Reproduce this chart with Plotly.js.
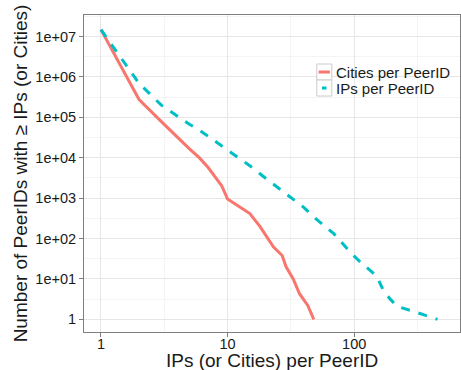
<!DOCTYPE html>
<html>
<head>
<meta charset="utf-8">
<script src="https://cdn.plot.ly/plotly-3.0.1.min.js"></script>
<style>html,body{margin:0;padding:0;background:#fff;}#chart{width:461px;height:370px;}</style>
</head>
<body>
<div id="chart"></div>
<script>
// Cities per PeerID (complementary cumulative counts)
const citiesX = [1, 2, 3, 4, 5, 6, 7, 8, 9, 10, 15, 18, 23, 27, 29, 33, 37, 43, 48];
const citiesY = [1.48e7, 2.75e5, 7.8e4, 3.2e4, 1.66e4, 9.9e3, 5.8e3, 3.3e3, 2.0e3, 950, 414, 200, 62, 38, 20, 10, 4.3, 2.2, 1];
// IPs per PeerID
const ipsX = [1, 2, 3, 4, 5, 6, 7, 8, 10, 15, 20, 30, 40, 48, 69, 93, 108, 151, 170, 192, 218, 277, 455];
const ipsY = [1.48e7, 6.9e5, 2.0e5, 1.05e5, 6.7e4, 4.8e4, 3.4e4, 2.55e4, 1.58e4, 6.3e3, 3.1e3, 1.2e3, 590, 341, 132, 46, 29, 11.6, 5.2, 3.2, 2.1, 1.67, 1];

const seriesNames = ["Cities per PeerID", "IPs per PeerID"];
const seriesColors = ["#F8766D", "#00BFC4"];
const xTickVals = [1, 10, 100];
const xTickText = ["1", "10", "100"];
const yTickVals = [1e7, 1e6, 1e5, 1e4, 1e3, 1e2, 1e1, 1];
const yTickText = ["1e+07", "1e+06", "1e+05", "1e+04", "1e+03", "1e+02", "1e+01", "1"];
const xMinorVals = [3.1623, 31.623, 316.23];
const yMinorVals = [3.1623e7, 3.1623e6, 3.1623e5, 3.1623e4, 3.1623e3, 316.23, 31.623, 3.1623];
const xTitle = "IPs (or Cities) per PeerID";
const yTitle = "Number of PeerIDs with ≥ IPs (or Cities)";

const font = "'Liberation Sans', Arial, Helvetica, sans-serif";

const traces = [
  {x: citiesX, y: citiesY, name: seriesNames[0], type: "scatter", mode: "lines",
   line: {color: seriesColors[0], width: 3}},
  {x: ipsX, y: ipsY, name: seriesNames[1], type: "scatter", mode: "lines",
   line: {color: seriesColors[1], width: 3, dash: "dash"}}
];

// legend drawn as key boxes + text (ggplot-style keys), in plot-area fractions
const legX0 = 0.619, legX1 = 0.659, legTop = 0.8454, legRow = 0.0505;
const shapes = [];
const annotations = [];
seriesNames.forEach((nm, i) => {
  const yTop = legTop - i * legRow, yBot = yTop - legRow, yMid = (yTop + yBot) / 2;
  shapes.push({type: "rect", xref: "paper", yref: "paper", x0: legX0, x1: legX1, y0: yBot, y1: yTop,
    line: {color: "#cccccc", width: 1}, fillcolor: "#ffffff", layer: "above"});
  const inset = i === 0 ? 0.005 : 0.014;
  shapes.push({type: "line", xref: "paper", yref: "paper", x0: legX0 + inset, x1: legX1 - inset, y0: yMid, y1: yMid,
    line: {color: seriesColors[i], width: 3}, layer: "above"});
  annotations.push({xref: "paper", yref: "paper", x: legX1 + 0.005, y: yMid, xanchor: "left", yanchor: "middle",
    text: nm, showarrow: false, font: {family: font, size: 15, color: "#1a1a1a"}});
});
// x axis title placed below the tick labels
annotations.push({xref: "paper", yref: "paper", x: 0.5, y: -0.089, xanchor: "center", yanchor: "middle",
  text: xTitle, showarrow: false, font: {family: font, size: 19, color: "#1a1a1a"}});

const layout = {
  width: 461, height: 370,
  margin: {l: 84, r: 1, t: 15, b: 38},
  paper_bgcolor: "#fff", plot_bgcolor: "#fff",
  font: {family: font, color: "#1a1a1a", size: 15},
  showlegend: false,
  shapes: shapes,
  annotations: annotations,
  xaxis: {
    type: "log", range: [-0.134, 2.836],
    tickmode: "array", tickvals: xTickVals, ticktext: xTickText,
    ticks: "outside", ticklen: 4, tickcolor: "#7f7f7f", tickwidth: 1,
    ticklabelstandoff: -5,
    tickfont: {size: 14.5, family: font, color: "#1a1a1a"},
    showgrid: true, gridcolor: "#e6e6e6", gridwidth: 1,
    minor: {tickvals: xMinorVals, showgrid: true, gridcolor: "#f4f4f4", gridwidth: 1, ticklen: 0},
    showline: true, linecolor: "#7f7f7f", linewidth: 1, mirror: true,
    zeroline: false,
    automargin: false
  },
  yaxis: {
    type: "log", range: [-0.314, 7.532],
    tickmode: "array", tickvals: yTickVals, ticktext: yTickText,
    ticks: "outside", ticklen: 4, tickcolor: "#7f7f7f", tickwidth: 1,
    tickfont: {size: 14.5, family: font, color: "#1a1a1a"},
    showgrid: true, gridcolor: "#e6e6e6", gridwidth: 1,
    minor: {tickvals: yMinorVals, showgrid: true, gridcolor: "#f4f4f4", gridwidth: 1, ticklen: 0},
    showline: true, linecolor: "#7f7f7f", linewidth: 1, mirror: true,
    zeroline: false,
    title: {text: yTitle, font: {size: 19, family: font, color: "#1a1a1a"}, standoff: 2},
    automargin: false
  }
};

Plotly.newPlot("chart", traces, layout, {displayModeBar: false, staticPlot: true});
</script>
</body>
</html>
